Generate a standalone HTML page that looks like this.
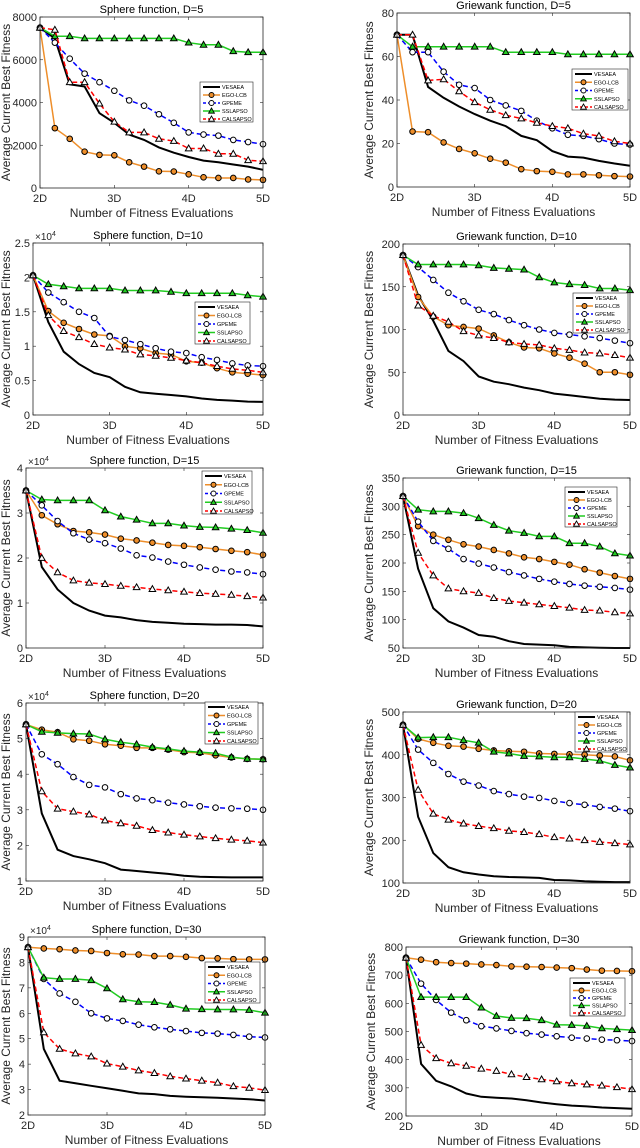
<!DOCTYPE html>
<html><head><meta charset="utf-8"><style>
html,body{margin:0;padding:0;background:#fff}
svg{display:block;font-family:"Liberation Sans",Arial,sans-serif}
</style></head><body>
<svg id="fig" width="640" height="1148" viewBox="0 0 640 1148" xmlns="http://www.w3.org/2000/svg"></svg>
<script>
const xTickLabels=["2D","3D","4D","5D"];
const seriesNames=["VESAEA","EGO-LCB","GPEME","SSLAPSO","CALSAPSO"];
const xSteps=[2,2.2,2.4,2.6,2.8,3,3.2,3.4,3.6,3.8,4,4.2,4.4,4.6,4.8,5];

const p1Ves=[7500,7000,4850,4750,3500,3050,2500,2250,1900,1650,1450,1280,1200,1100,1000,850];
const p1Ego=[7500,2800,2300,1700,1550,1530,1200,1000,780,770,640,500,470,470,400,380];
const p1Gp=[7500,6800,6050,5350,4950,4550,4100,3850,3450,3050,2600,2500,2450,2250,2150,2050];
const p1Ss=[7500,7100,7100,7000,7000,7000,7000,7000,7000,7000,6800,6700,6700,6400,6350,6350];
const p1Ca=[7500,7400,4950,4950,3950,3100,2600,2600,2300,2200,1850,1850,1600,1600,1300,1250];
const p1Ticks=[0,2000,4000,6000,8000];

const p2Ves=[70,70,46,41,37,33.5,30.5,28,23.5,21.5,16.5,14,13.5,12,10.8,9.8];
const p2Ego=[70,25.5,25.2,20.5,17.5,15.5,13,11.2,8.2,7.3,7,5.8,5.8,5.4,5,4.8];
const p2Gp=[70,62,62,53,47,45.5,40,37.5,35,30.5,27,24,23.5,22,20,19.5];
const p2Ss=[70,64.5,64.5,64.5,64.5,64.5,64.5,62,62,62,62,61,61,61,61,61];
const p2Ca=[70,70,49,49.5,44,39,35.5,33,31.5,29.5,28,27,24.5,23.5,21,20];
const p2Ticks=[0,20,40,60,80];

const p3Ves=[2.03,1.35,0.92,0.74,0.61,0.55,0.41,0.33,0.31,0.29,0.27,0.24,0.22,0.21,0.195,0.19];
const p3Ego=[2.03,1.51,1.34,1.25,1.17,1.15,1.0,0.97,0.90,0.88,0.78,0.76,0.68,0.62,0.60,0.58];
const p3Gp=[2.03,1.78,1.64,1.50,1.41,1.14,1.09,1.03,0.97,0.92,0.90,0.84,0.80,0.75,0.72,0.71];
const p3Ss=[2.03,1.90,1.87,1.84,1.84,1.84,1.81,1.81,1.81,1.79,1.77,1.77,1.77,1.77,1.74,1.72];
const p3Ca=[2.03,1.45,1.22,1.13,1.03,0.98,0.95,0.88,0.86,0.83,0.79,0.76,0.71,0.67,0.65,0.62];
const p3Ticks=[0,0.5,1,1.5,2,2.5];

const p4Ves=[187,140,110,75,63,45,39,36,32,29,25,23,21,19,18,17.5];
const p4Ego=[187,138,115,105,103,101,93,85,79,78,72,67,60,50,50,47];
const p4Gp=[187,173,158,143,133,123,118,111,105,100,96,94,92,90,87,84];
const p4Ss=[187,176,176,176,176,175,172,171,170,161,155,153,152,148,148,146];
const p4Ca=[187,128,116,109,98,93,90,85,83,82,78,76,73,72,70,67];
const p4Ticks=[0,50,100,150,200];

const p5Ves=[3.5,1.8,1.3,1.0,0.83,0.72,0.68,0.62,0.58,0.56,0.54,0.53,0.52,0.52,0.51,0.48];
const p5Ego=[3.5,2.95,2.75,2.6,2.57,2.52,2.43,2.39,2.34,2.29,2.27,2.24,2.2,2.16,2.13,2.07];
const p5Gp=[3.5,3.17,2.82,2.55,2.41,2.33,2.21,2.06,2.01,1.92,1.85,1.79,1.74,1.7,1.68,1.64];
const p5Ss=[3.5,3.3,3.28,3.28,3.28,3.06,2.92,2.85,2.77,2.77,2.72,2.69,2.68,2.65,2.62,2.56];
const p5Ca=[3.5,2.0,1.68,1.50,1.45,1.42,1.38,1.35,1.31,1.28,1.25,1.22,1.2,1.18,1.15,1.12];
const p5Ticks=[0,1,2,3,4];

const p6Ves=[318,190,120,97,86,73,70,62,57,56,55,52,51,50.5,50,50];
const p6Ego=[318,265,250,241,233,229,223,217,210,207,202,197,189,183,177,172];
const p6Gp=[318,273,239,225,207,199,192,184,178,172,167,163,160,158,156,153];
const p6Ss=[318,294,291,291,288,279,267,257,253,247,247,235,235,229,217,213];
const p6Ca=[318,218,178,155,150,147,138,133,130,127,124,121,117,116,113,111];
const p6Ticks=[50,100,150,200,250,300,350];

const p7Ves=[5.4,2.9,1.88,1.7,1.61,1.5,1.32,1.28,1.24,1.2,1.15,1.12,1.11,1.1,1.1,1.1];
const p7Ego=[5.4,5.25,5.18,4.98,4.94,4.84,4.80,4.74,4.74,4.69,4.62,4.60,4.53,4.47,4.43,4.42];
const p7Gp=[5.4,4.56,4.28,3.92,3.70,3.63,3.44,3.32,3.27,3.20,3.15,3.10,3.06,3.04,3.03,3.0];
const p7Ss=[5.4,5.19,5.16,5.14,5.13,4.98,4.90,4.84,4.76,4.71,4.65,4.62,4.59,4.48,4.43,4.42];
const p7Ca=[5.4,3.52,3.03,2.95,2.87,2.70,2.62,2.55,2.43,2.36,2.30,2.25,2.20,2.16,2.13,2.08];
const p7Ticks=[1,2,3,4,5,6];

const p8Ves=[470,255,170,137,125,120,116,114,113,112,107,106,104,103,102,102];
const p8Ego=[470,437,428,421,419,414,410,408,407,403,402,401,400,398,396,387];
const p8Gp=[470,412,381,355,337,328,315,308,302,299,292,287,283,278,274,268];
const p8Ss=[470,440,441,441,434,428,407,403,397,396,394,394,390,386,376,370];
const p8Ca=[470,318,262,248,239,233,228,222,219,214,207,204,200,196,193,190];
const p8Ticks=[100,200,300,400,500];

const p9Ves=[8.6,4.6,3.35,3.25,3.15,3.05,2.95,2.85,2.82,2.75,2.72,2.7,2.68,2.65,2.62,2.57];
const p9Ego=[8.6,8.55,8.52,8.47,8.45,8.37,8.32,8.31,8.25,8.25,8.22,8.17,8.16,8.13,8.12,8.12];
const p9Gp=[8.6,7.35,6.78,6.45,6.0,5.8,5.7,5.55,5.45,5.37,5.3,5.23,5.2,5.15,5.08,5.05];
const p9Ss=[8.6,7.4,7.35,7.35,7.3,6.98,6.55,6.45,6.44,6.33,6.18,6.16,6.15,6.15,6.13,6.02];
const p9Ca=[8.6,5.25,4.6,4.42,4.3,4.02,3.9,3.75,3.65,3.52,3.43,3.35,3.27,3.13,3.07,2.98];
const p9Ticks=[2,3,4,5,6,7,8,9];

const p10Ves=[762,385,325,305,280,268,265,262,256,248,242,237,234,230,228,226];
const p10Ego=[762,755,746,743,741,738,736,731,730,729,727,725,720,716,715,714];
const p10Gp=[762,670,612,567,540,519,511,502,494,489,483,478,475,471,469,466];
const p10Ss=[762,622,622,622,622,585,555,548,547,540,524,523,520,511,508,505];
const p10Ca=[762,452,405,387,378,368,360,348,338,330,323,316,312,308,302,295];
const p10Ticks=[200,300,400,500,600,700,800];

const NS="http://www.w3.org/2000/svg";
const svg=document.getElementById('fig');
function mk(tag,attrs,parent){const e=document.createElementNS(NS,tag);for(const k in attrs)e.setAttribute(k,attrs[k]);(parent||svg).appendChild(e);return e;}

const styles=[
 {c:"#000000",dash:"",w:2,m:null,fill:""},
 {c:"#EE8E2A",dash:"",w:1.5,m:"o",fill:"#EE8E2A"},
 {c:"#0000FF",dash:"5,3",w:1.5,m:"o",fill:"#ffffff"},
 {c:"#22CC22",dash:"",w:1.5,m:"t",fill:"#22CC22"},
 {c:"#FF0000",dash:"5,3",w:1.5,m:"t",fill:"#ffffff"}
];

function plot(cfg){
  const g=mk('g',{});
  
  
  const {L,R,T,B,ymin,ymax}=cfg;
  const xs=v=>L+(v-2)/3*(R-L);
  const ys=v=>B-(v-ymin)/(ymax-ymin)*(B-T);
  const t=mk('text',{x:(L+R)/2,y:T-4,'text-anchor':'middle','font-size':11,fill:'#000'},g);
  t.textContent=cfg.title;
  
  
  // ticks
  cfg.ticks.forEach(v=>{
    const y=ys(v);
    mk('line',{x1:L,x2:L+3,y1:y,y2:y,stroke:'#262626','stroke-width':0.6},g);
    mk('line',{x1:R,x2:R-3,y1:y,y2:y,stroke:'#262626','stroke-width':0.6},g);
    const tl=mk('text',{x:L-3,y:y+4,'text-anchor':'end','font-size':11,fill:'#262626'},g);
    tl.textContent=String(v);
    
    
  });
  xTickLabels.forEach((lab,i)=>{
    const x=xs(2+i);
    mk('line',{x1:x,x2:x,y1:B,y2:B-3,stroke:'#262626','stroke-width':0.6},g);
    mk('line',{x1:x,x2:x,y1:T,y2:T+3,stroke:'#262626','stroke-width':0.6},g);
    const tl=mk('text',{x:x,y:B+14,'text-anchor':'middle','font-size':11,fill:'#262626'},g);
    tl.textContent=lab;
    
    
  });
  if(cfg.exp){
    const ex=mk('text',{x:L+2,y:T-3,'font-size':10,fill:'#262626'},g);
    ex.textContent='×10';
    
    
    const sp=mk('tspan',{dy:-4,'font-size':7},ex);sp.textContent='4';
  }
  const xl=mk('text',{x:(L+R)/2,y:B+29,'text-anchor':'middle','font-size':12,fill:'#262626'},g);
  xl.textContent='Number of Fitness Evaluations';
  
  
  const yl=mk('text',{x:0,y:0,'text-anchor':'middle','font-size':12,fill:'#262626',transform:`translate(${cfg.yx},${(T+B)/2}) rotate(-90)`},g);
  yl.textContent='Average Current Best Fitness';
  
  
  // series
  cfg.series.forEach((vals,si)=>{
    const st=styles[si];
    const sg=mk('g',{},g);
    
    
    const pts=vals.map((v,i)=>xs(xSteps[i]).toFixed(1)+','+ys(v).toFixed(1)).join(' ');
    const pl=mk('polyline',{points:pts,fill:'none',stroke:st.c,'stroke-width':st.w,'stroke-dasharray':st.dash},sg);
    
    
    if(st.m) vals.forEach((v,i)=>{
      const x=xs(xSteps[i]),y=ys(v);
      let m;
      if(st.m==='o') m=mk('circle',{cx:x,cy:y,r:2.8,fill:st.fill,stroke:'#000','stroke-width':1},sg);
      else m=mk('polygon',{points:`${x},${y-3.4} ${x-3.3},${y+2.4} ${x+3.3},${y+2.4}`,fill:st.fill,stroke:'#000','stroke-width':1},sg);
      
      
    });
  });
  const box=mk('rect',{x:L,y:T,width:R-L,height:B-T,fill:'none',stroke:'#262626','stroke-width':0.8},g);
  
  
  // legend
  const lg=mk('g',{},g);
  
  
  const [lx,ly,lw,lh]=cfg.leg;
  mk('rect',{x:lx,y:ly,width:lw,height:lh,fill:'#fff',stroke:'#262626','stroke-width':0.6},lg);
  seriesNames.forEach((n,i)=>{
    const st=styles[i];const yy=ly+5+i*(lh-8)/4;
    mk('line',{x1:lx+3,x2:lx+20,y1:yy,y2:yy,stroke:st.c,'stroke-width':st.w,'stroke-dasharray':st.dash?'3,2':''},lg);
    if(st.m==='o') mk('circle',{cx:lx+11.5,cy:yy,r:2.5,fill:st.fill,stroke:'#000','stroke-width':0.9},lg);
    if(st.m==='t') mk('polygon',{points:`${lx+11.5},${yy-3} ${lx+8.6},${yy+2.2} ${lx+14.4},${yy+2.2}`,fill:st.fill,stroke:'#000','stroke-width':0.9},lg);
    const tx=mk('text',{x:lx+22,y:yy+2,'font-size':5.5,fill:'#000'},lg);
    tx.textContent=n;
    
    
  });
}

plot({name:'sphere-d5-chart',title:'Sphere function, D=5',L:40,R:263,T:17,B:188,ymin:0,ymax:8000,ticks:p1Ticks,yx:10,leg:[200,82,53,40],series:[p1Ves,p1Ego,p1Gp,p1Ss,p1Ca]});
plot({name:'griewank-d5-chart',title:'Griewank function, D=5',L:397,R:630,T:13,B:187,ymin:0,ymax:80,ticks:p2Ticks,yx:373,leg:[572,69,56,41],series:[p2Ves,p2Ego,p2Gp,p2Ss,p2Ca]});
plot({name:'sphere-d10-chart',title:'Sphere function, D=10',L:33,R:263,T:243,B:415,ymin:0,ymax:2.5,ticks:p3Ticks,exp:true,yx:10,leg:[195,302,55,42],series:[p3Ves,p3Ego,p3Gp,p3Ss,p3Ca]});
plot({name:'griewank-d10-chart',title:'Griewank function, D=10',L:403,R:630,T:244,B:415,ymin:0,ymax:200,ticks:p4Ticks,yx:373,leg:[573,293,55,40],series:[p4Ves,p4Ego,p4Gp,p4Ss,p4Ca]});
plot({name:'sphere-d15-chart',title:'Sphere function, D=15',L:26,R:263,T:468,B:648,ymin:0,ymax:4,ticks:p5Ticks,exp:true,yx:10,leg:[202,471,50,43],series:[p5Ves,p5Ego,p5Gp,p5Ss,p5Ca]});
plot({name:'griewank-d15-chart',title:'Griewank function, D=15',L:403,R:630,T:478,B:648,ymin:50,ymax:350,ticks:p6Ticks,yx:373,leg:[565,487,52,40],series:[p6Ves,p6Ego,p6Gp,p6Ss,p6Ca]});
plot({name:'sphere-d20-chart',title:'Sphere function, D=20',L:26,R:263,T:703,B:881,ymin:1,ymax:6,ticks:p7Ticks,exp:true,yx:10,leg:[205,702,53,42],series:[p7Ves,p7Ego,p7Gp,p7Ss,p7Ca]});
plot({name:'griewank-d20-chart',title:'Griewank function, D=20',L:403,R:630,T:712,B:883,ymin:100,ymax:500,ticks:p8Ticks,yx:373,leg:[575,712,52,40],series:[p8Ves,p8Ego,p8Gp,p8Ss,p8Ca]});
plot({name:'sphere-d30-chart',title:'Sphere function, D=30',L:28,R:265,T:937,B:1115,ymin:2,ymax:9,ticks:p9Ticks,exp:true,yx:10,leg:[205,962,55,41],series:[p9Ves,p9Ego,p9Gp,p9Ss,p9Ca]});
plot({name:'griewank-d30-chart',title:'Griewank function, D=30',L:406,R:632,T:947,B:1116,ymin:200,ymax:800,ticks:p10Ticks,yx:375,leg:[570,978,55,38],series:[p10Ves,p10Ego,p10Gp,p10Ss,p10Ca]});
</script>
</body></html>
